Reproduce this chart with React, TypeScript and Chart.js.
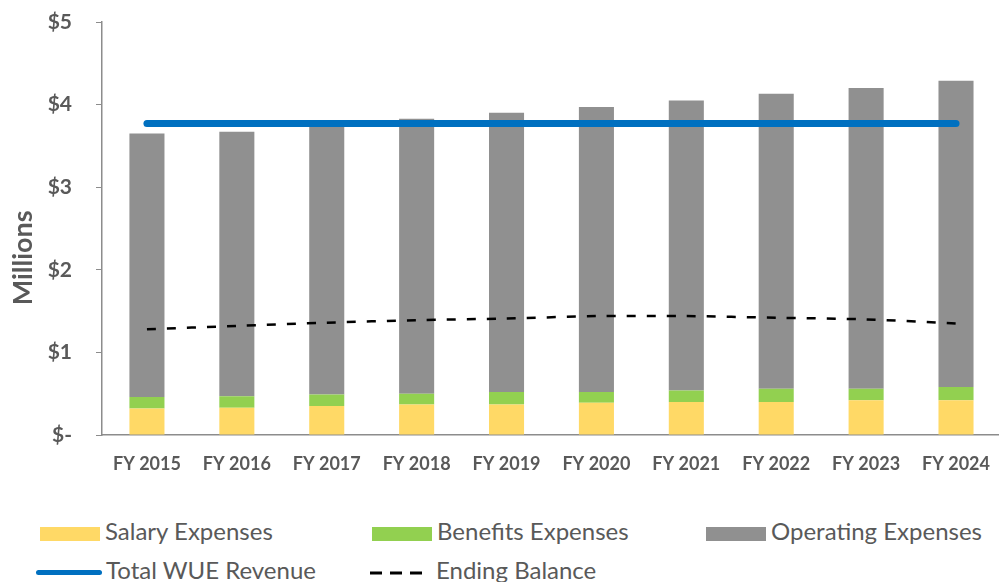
import React, { useEffect, useRef } from "react";
import { Chart, registerables } from "chart.js";

Chart.register(...registerables);

const categories = ["FY 2015", "FY 2016", "FY 2017", "FY 2018", "FY 2019", "FY 2020", "FY 2021", "FY 2022", "FY 2023", "FY 2024"];
const salary = [0.32, 0.33, 0.35, 0.37, 0.37, 0.39, 0.40, 0.40, 0.42, 0.42];
const benefits = [0.14, 0.14, 0.14, 0.13, 0.15, 0.13, 0.14, 0.16, 0.14, 0.16];
const totalExpenses = [3.65, 3.67, 3.74, 3.83, 3.90, 3.97, 4.05, 4.13, 4.20, 4.29];
const operating = totalExpenses.map((t, i) => +(t - salary[i] - benefits[i]).toFixed(2));
const revenue = [3.77, 3.77, 3.77, 3.77, 3.77, 3.77, 3.77, 3.77, 3.77, 3.77];
const endingBalance = [1.28, 1.32, 1.36, 1.39, 1.41, 1.44, 1.44, 1.42, 1.40, 1.35];
const yTicks = [0, 1, 2, 3, 4, 5];
const yTitle = "Millions";

const COLORS = {
  salary: "#FFD966",
  benefits: "#92D050",
  operating: "#909090",
  revenue: "#0070C0",
  balance: "#000000",
  text: "#595959",
  axis: "#8C8C8C",
};

const legendItems = [
  { label: "Salary Expenses", kind: "box", color: COLORS.salary, left: 40, row: 0 },
  { label: "Benefits Expenses", kind: "box", color: COLORS.benefits, left: 372, row: 0 },
  { label: "Operating Expenses", kind: "box", color: COLORS.operating, left: 706, row: 0 },
  { label: "Total WUE Revenue", kind: "line", color: COLORS.revenue, left: 36, row: 1 },
  { label: "Ending Balance", kind: "dash", color: COLORS.balance, left: 370, row: 1 },
];

const FONT = "Lato, 'Open Sans', sans-serif";

const yTitlePlugin = {
  id: "yTitlePlugin",
  afterDraw(chart: any) {
    const { ctx, chartArea } = chart;
    ctx.save();
    ctx.translate(21, chartArea.top + (chartArea.bottom - chartArea.top) * 0.571);
    ctx.rotate(-Math.PI / 2);
    ctx.font = `bold 27px ${FONT}`;
    ctx.fillStyle = COLORS.text;
    ctx.textAlign = "center";
    ctx.textBaseline = "middle";
    ctx.fillText(yTitle, 0, 0);
    ctx.restore();
  },
};

export default function App() {
  const canvasRef = useRef<HTMLCanvasElement | null>(null);

  useEffect(() => {
    document.body.style.margin = "0";
    document.body.style.overflow = "hidden";
    const ctx = canvasRef.current!;
    const chart = new Chart(ctx, {
      type: "bar",
      plugins: [yTitlePlugin],
      data: {
        labels: categories,
        datasets: [
          {
            type: "line",
            label: "Total WUE Revenue",
            data: revenue,
            borderColor: COLORS.revenue,
            borderWidth: 7,
            borderCapStyle: "round",
            pointRadius: 0,
            stack: "rev",
            order: 0,
          } as any,
          {
            type: "line",
            label: "Ending Balance",
            data: endingBalance,
            borderColor: COLORS.balance,
            borderWidth: 2.5,
            borderDash: [9, 11],
            pointRadius: 0,
            tension: 0.2,
            stack: "bal",
            order: 0,
          } as any,
          {
            label: "Salary Expenses",
            data: salary,
            backgroundColor: COLORS.salary,
            stack: "exp",
            order: 1,
            categoryPercentage: 0.78,
            barPercentage: 0.5,
          },
          {
            label: "Benefits Expenses",
            data: benefits,
            backgroundColor: COLORS.benefits,
            stack: "exp",
            order: 1,
            categoryPercentage: 0.78,
            barPercentage: 0.5,
          },
          {
            label: "Operating Expenses",
            data: operating,
            backgroundColor: COLORS.operating,
            stack: "exp",
            order: 1,
            categoryPercentage: 0.78,
            barPercentage: 0.5,
          },
        ],
      },
      options: {
        animation: false,
        responsive: true,
        maintainAspectRatio: false,
        layout: { padding: { top: 0, left: 0, right: 0, bottom: 0 } },
        plugins: {
          legend: { display: false },
          tooltip: { enabled: false },
        },
        scales: {
          x: {
            stacked: true,
            grid: { display: false, drawTicks: false },
            border: { display: true, color: COLORS.axis, width: 1.5 },
            ticks: {
              color: COLORS.text,
              padding: 18,
              maxRotation: 0,
              autoSkip: false,
              font: { family: FONT, size: 18, weight: "bold" },
            },
            afterFit: (scale: any) => {
              scale.height = 65;
            },
          },
          y: {
            stacked: true,
            min: 0,
            max: 5,
            afterBuildTicks: (scale: any) => {
              scale.ticks = yTicks.map((v) => ({ value: v }));
            },
            grid: {
              display: true,
              drawOnChartArea: false,
              drawTicks: true,
              tickLength: 6,
              color: COLORS.axis,
            },
            border: { display: true, color: COLORS.axis, width: 1.5 },
            ticks: {
              color: COLORS.text,
              padding: 24,
              font: { family: FONT, size: 21, weight: "bold" },
              callback: (v: any) => (Number(v) === 0 ? "$-" : "$" + v),
            },
            title: { display: false },
            afterFit: (scale: any) => {
              scale.width = 100;
              scale.paddingTop = 22;
              scale.paddingBottom = 0;
            },
          },
        },
      },
    });
    return () => chart.destroy();
  }, []);

  return (
    <div style={{ position: "absolute", left: 0, top: 0, width: 999, height: 582, overflow: "hidden", background: "#fff", fontFamily: FONT }}>
      <div style={{ position: "absolute", left: 2, top: 0, width: 1006, height: 500 }}>
        <canvas ref={canvasRef} />
      </div>
      {legendItems.map((it) => (
        <div
          key={it.label}
          style={{
            position: "absolute",
            left: it.left,
            top: it.row === 0 ? 518 : 557,
            display: "flex",
            alignItems: "center",
            height: 26,
            fontSize: 24,
            lineHeight: "24px",
            color: COLORS.text,
            whiteSpace: "nowrap",
          }}
        >
          {it.kind === "box" && (
            <span style={{ display: "inline-block", width: 60, height: 14, marginTop: 6, background: it.color, marginRight: 5 }} />
          )}
          {it.kind === "line" && (
            <span style={{ display: "inline-block", width: 66, height: 5, marginTop: 4, borderRadius: 3, background: it.color, marginRight: 4 }} />
          )}
          {it.kind === "dash" && (
            <svg width={52} height={10} style={{ marginTop: 6, marginRight: 14 }}>
              <line x1={0} y1={5} x2={52} y2={5} stroke={it.color} strokeWidth={3} strokeDasharray="12 8" />
            </svg>
          )}
          <span>{it.label}</span>
        </div>
      ))}
    </div>
  );
}
